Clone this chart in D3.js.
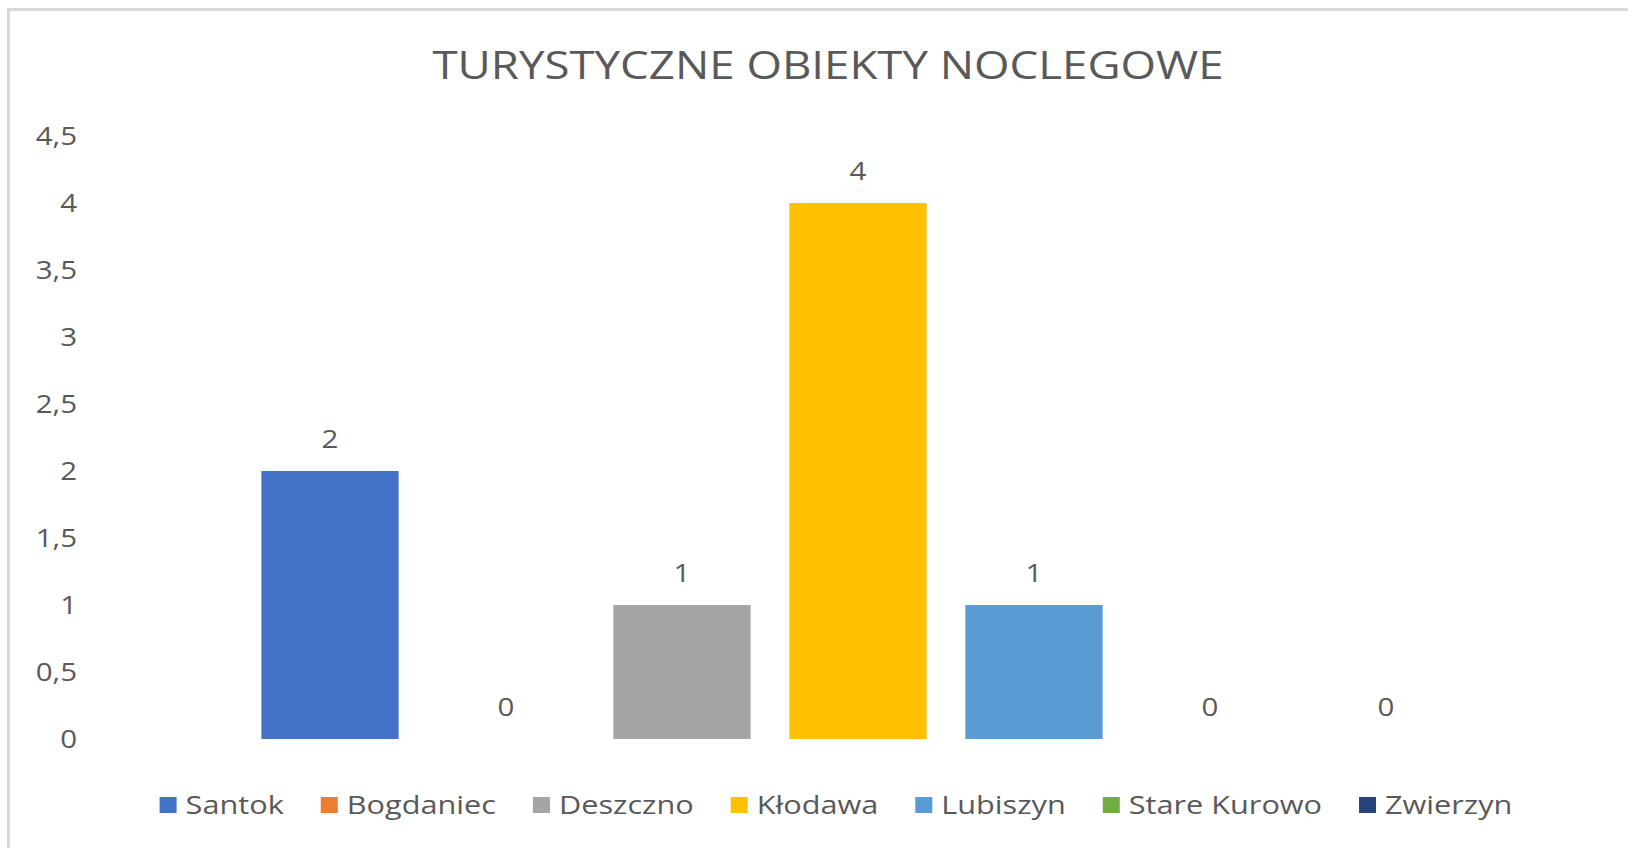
<!DOCTYPE html>
<html>
<head>
<meta charset="utf-8">
<script src="https://cdn.jsdelivr.net/npm/d3@7"></script>
<style>
  body { margin: 0; background: #fff; }
  svg { display: block; font-family: "Open Sans", "Noto Sans", sans-serif; }
</style>
</head>
<body>
<svg id="chart"></svg>
<script>
const gminy = ["Santok", "Bogdaniec", "Deszczno", "Kłodawa", "Lubiszyn", "Stare Kurowo", "Zwierzyn"];
const obiekty = [2, 0, 1, 4, 1, 0, 0];
const kolory = ["#4472C4", "#ED7D31", "#A5A5A5", "#FFC000", "#5B9BD5", "#70AD47", "#264478"];
const yTicks = [0, 0.5, 1, 1.5, 2, 2.5, 3, 3.5, 4, 4.5];
const yTickLabels = ["0", "0,5", "1", "1,5", "2", "2,5", "3", "3,5", "4", "4,5"];
const tytul = "TURYSTYCZNE OBIEKTY NOCLEGOWE";

const w = 1628;
const h = 848;
const textCol = "#595959";
const sx = 1.18; // obraz zrodlowy jest troche rozciagniety w poziomie

const svg = d3.select("#chart")
  .attr("width", w)
  .attr("height", h);

// ramka wykresu (widoczna tylko lewa i gorna krawedz)
svg.append("path")
  .attr("d", "M8.5," + h + " L8.5,9.5 L" + w + ",9.5")
  .attr("fill", "none")
  .attr("stroke", "#d9d9d9")
  .attr("stroke-width", 3);

svg.append("g")
  .attr("transform", "translate(828,79) scale(1.2,1)")
  .append("text")
  .attr("text-anchor", "middle")
  .attr("fill", textCol)
  .attr("font-size", "38px")
  .text(tytul);

const xScale = d3.scaleBand()
  .domain(gminy)
  .range([242, 1474])
  .paddingInner(0.22)
  .paddingOuter(0.11);

const yScale = d3.scaleLinear()
  .domain([0, 4.5])
  .range([739, 136]);

const yAxis = d3.axisLeft(yScale)
  .tickValues(yTicks)
  .tickSize(0)
  .tickPadding(0)
  .tickFormat((d, i) => yTickLabels[i]);

const gy = svg.append("g")
  .attr("transform", "translate(77,0)")
  .call(yAxis);
gy.select(".domain").remove();
gy.selectAll("text")
  .attr("fill", textCol)
  .attr("font-size", "25px")
  .attr("font-family", "'Open Sans', 'Noto Sans', sans-serif")
  .attr("transform", "scale(" + sx + ",1)");

svg.selectAll(".bar")
  .data(obiekty)
  .join("rect")
  .attr("class", "bar")
  .attr("x", (d, i) => xScale(gminy[i]))
  .attr("y", d => yScale(d))
  .attr("width", xScale.bandwidth())
  .attr("height", d => yScale(0) - yScale(d))
  .attr("fill", (d, i) => kolory[i]);

svg.selectAll(".lbl")
  .data(obiekty)
  .join("g")
  .attr("class", "lbl")
  .attr("transform", (d, i) => "translate(" + (xScale(gminy[i]) + xScale.bandwidth() / 2) + "," + (yScale(d) - 23) + ") scale(" + sx + ",1)")
  .append("text")
  .attr("text-anchor", "middle")
  .attr("fill", textCol)
  .attr("font-size", "25px")
  .text(d => d);

// legenda
const legend = svg.append("g");
const items = legend.selectAll("g.item")
  .data(gminy)
  .join("g")
  .attr("class", "item");
items.append("rect")
  .attr("width", 17)
  .attr("height", 16)
  .attr("y", -8)
  .attr("fill", (d, i) => kolory[i]);
items.append("g")
  .attr("transform", "translate(26,0) scale(" + sx + ",1)")
  .append("text")
  .attr("dy", "0.35em")
  .attr("fill", textCol)
  .attr("font-size", "26px")
  .text(d => d);

let pos = 0;
items.each(function () {
  const tw = d3.select(this).select("text").node().getComputedTextLength() * sx;
  d3.select(this).attr("transform", "translate(" + pos + ",0)");
  pos += 26 + tw + 37;
});
const total = pos - 37;
legend.attr("transform", "translate(" + (836 - total / 2) + ",805)");
</script>
</body>
</html>
